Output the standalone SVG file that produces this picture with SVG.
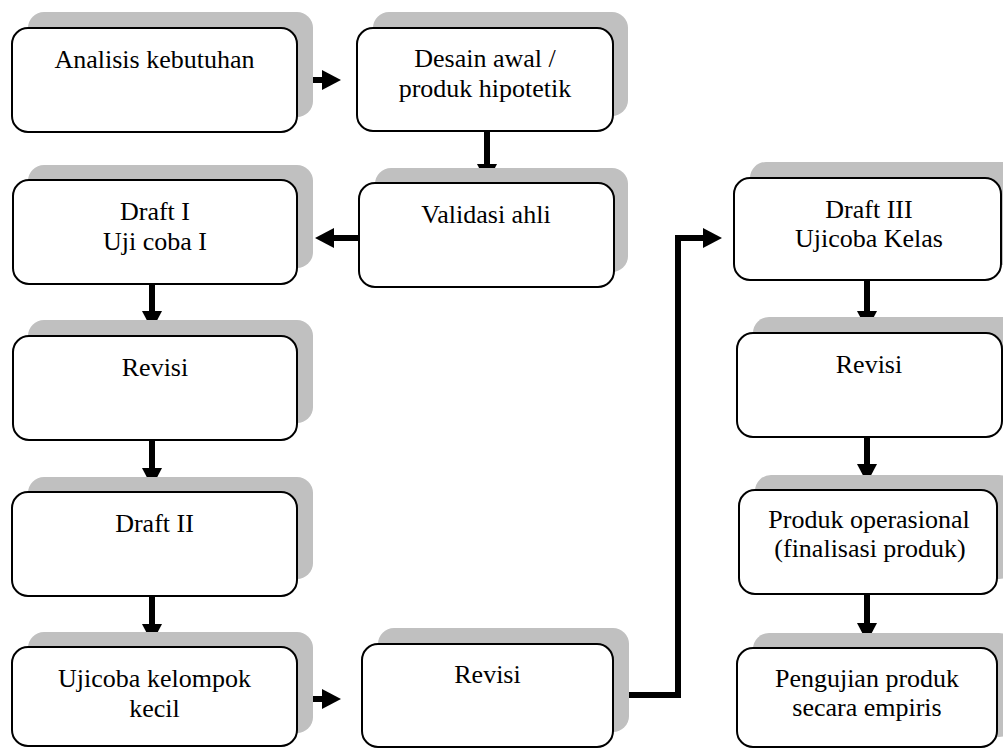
<svg xmlns="http://www.w3.org/2000/svg" width="1003" height="749" viewBox="0 0 1003 749">
<style>
.sh{fill:#c0c0c0;stroke:none}
.bx{fill:#ffffff;stroke:#000000;stroke-width:2}
.t{font-family:"Liberation Serif","Times New Roman",serif;font-size:26px;fill:#000000;text-anchor:middle}
.c{fill:none;stroke:#000000;stroke-width:6}
.h{fill:#000000;stroke:none}
</style>
<rect width="1003" height="749" fill="#ffffff"/>

<g id="connectors">
<path class="c" d="M297,80 H323"/>
<polygon class="h" points="322,70 341,80 322,90"/>
<path class="c" d="M487,131 V165"/>
<polygon class="h" points="477,164 487,183 497,164"/>
<path class="c" d="M358,238 H333"/>
<polygon class="h" points="334,228 315,238 334,248"/>
<path class="c" d="M152,284 V312"/>
<polygon class="h" points="142,311 152,330 162,311"/>
<path class="c" d="M152,440 V469"/>
<polygon class="h" points="142,468 152,487 162,468"/>
<path class="c" d="M152,596 V625"/>
<polygon class="h" points="142,624 152,643 162,624"/>
<path class="c" d="M297,699 H323"/>
<polygon class="h" points="322,689 341,699 322,709"/>
<path class="c" d="M613,695 H678 V238 H704"/>
<polygon class="h" points="703,228 722,238 703,248"/>
<path class="c" d="M867,280 V312"/>
<polygon class="h" points="857,311 867,330 877,311"/>
<path class="c" d="M867,437 V465"/>
<polygon class="h" points="857,464 867,483 877,464"/>
<path class="c" d="M867,594 V624"/>
<polygon class="h" points="857,623 867,642 877,623"/>
</g>

<g id="n-analisis">
<rect class="sh" x="28" y="12" width="285" height="105" rx="16"/>
<rect class="bx" x="12" y="28" width="285" height="104" rx="16"/>
<text class="t" x="154.5" y="68">Analisis kebutuhan</text>
</g>

<g id="n-desain">
<rect class="sh" x="373" y="12" width="255" height="104" rx="16"/>
<rect class="bx" x="357" y="28" width="256" height="103" rx="16"/>
<text class="t" x="485" y="67">Desain awal /</text>
<text class="t" x="485" y="97">produk hipotetik</text>
</g>

<g id="n-validasi">
<rect class="sh" x="375" y="168" width="253" height="104" rx="16"/>
<rect class="bx" x="359" y="183" width="255" height="104" rx="16"/>
<text class="t" x="486" y="223">Validasi ahli</text>
</g>

<g id="n-draft1">
<rect class="sh" x="28" y="165" width="285" height="103" rx="16"/>
<rect class="bx" x="13" y="180" width="284" height="104" rx="16"/>
<text class="t" x="155" y="220">Draft I</text>
<text class="t" x="155" y="250">Uji coba I</text>
</g>

<g id="n-revisi1">
<rect class="sh" x="28" y="320" width="285" height="103" rx="16"/>
<rect class="bx" x="13" y="336" width="284" height="104" rx="16"/>
<text class="t" x="155" y="376">Revisi</text>
</g>

<g id="n-draft2">
<rect class="sh" x="28" y="477" width="285" height="102" rx="16"/>
<rect class="bx" x="12" y="492" width="285" height="104" rx="16"/>
<text class="t" x="154.5" y="532">Draft II</text>
</g>

<g id="n-ujicoba-kecil">
<rect class="sh" x="28" y="632" width="285" height="101" rx="16"/>
<rect class="bx" x="12" y="647" width="285" height="99" rx="16"/>
<text class="t" x="154.5" y="687">Ujicoba kelompok</text>
<text class="t" x="154.5" y="717">kecil</text>
</g>

<g id="n-revisi2">
<rect class="sh" x="378" y="628" width="251" height="104" rx="16"/>
<rect class="bx" x="362" y="644" width="251" height="103" rx="16"/>
<text class="t" x="487.5" y="683">Revisi</text>
</g>

<g id="n-draft3">
<rect class="sh" x="750" y="162" width="267" height="103" rx="16"/>
<rect class="bx" x="734" y="178" width="267" height="102" rx="16"/>
<text class="t" x="869" y="218">Draft III</text>
<text class="t" x="869" y="247">Ujicoba Kelas</text>
</g>

<g id="n-revisi3">
<rect class="sh" x="753" y="317" width="265" height="104" rx="16"/>
<rect class="bx" x="737" y="333" width="265" height="104" rx="16"/>
<text class="t" x="869" y="373">Revisi</text>
</g>

<g id="n-produk">
<rect class="sh" x="755" y="475" width="260" height="104" rx="16"/>
<rect class="bx" x="739" y="490" width="258" height="104" rx="16"/>
<text class="t" x="869" y="528">Produk operasional</text>
<text class="t" x="870" y="557">(finalisasi produk)</text>
</g>

<g id="n-pengujian">
<rect class="sh" x="753" y="633" width="262" height="104" rx="16"/>
<rect class="bx" x="737" y="648" width="260" height="99" rx="16"/>
<text class="t" x="867" y="687">Pengujian produk</text>
<text class="t" x="867" y="716">secara empiris</text>
</g>
</svg>
